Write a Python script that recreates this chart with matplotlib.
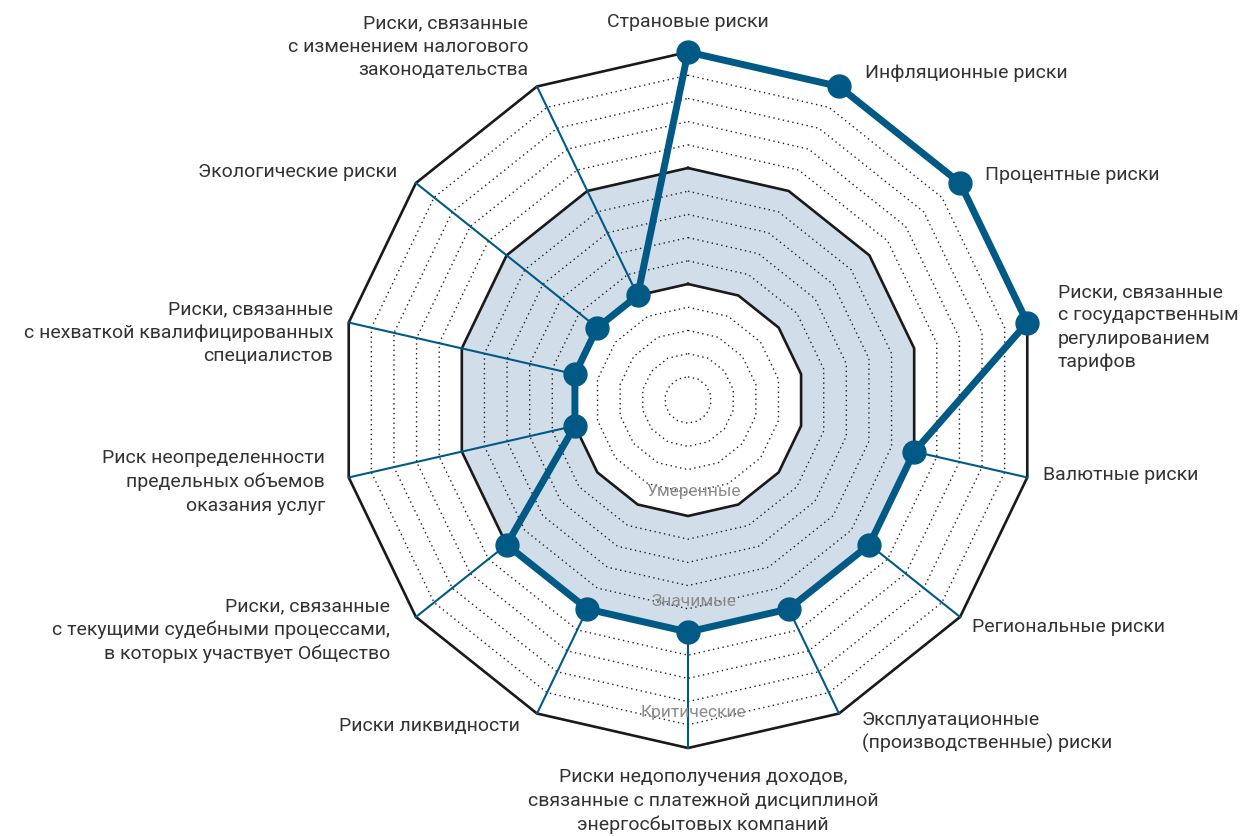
import numpy as np
import matplotlib.pyplot as plt

# risk categories, clockwise from the top
categories = [
    'Страновые риски',
    'Инфляционные риски',
    'Процентные риски',
    'Риски, связанные\nс государственным\nрегулированием\nтарифов',
    'Валютные риски',
    'Региональные риски',
    'Эксплуатационные\n(производственные) риски',
    'Риски недополучения доходов,\nсвязанные с платежной дисциплиной\nэнергосбытовых компаний',
    'Риски ликвидности',
    'Риски, связанные\nс текущими судебными процессами,\nв которых участвует Общество',
    'Риск неопределенности\nпредельных объемов\nоказания услуг',
    'Риски, связанные\nс нехваткой квалифицированных\nспециалистов',
    'Экологические риски',
    'Риски, связанные\nс изменением налогового\nзаконодательства',
]
values = [15, 15, 15, 15, 10, 10, 10, 10, 10, 10, 5, 5, 5, 5]

zone_names = ['Умеренные', 'Значимые', 'Критические']
zone_bounds = [5, 10, 15]
r_max = 15

BLUE = '#005a85'
SHADE = '#d1dde8'
TXT = '#333333'

# label anchors in pixels (x from left, y from top) and alignment
label_px = [(688, 22, 'center'), (865, 73, 'left'), (985, 175, 'left'),
            (1058, 327, 'left'), (1043, 475, 'left'), (972, 627, 'left'),
            (862, 732, 'left'), (703, 801, 'center'), (520, 726, 'right'),
            (390, 630, 'right'), (325, 482, 'right'), (333, 333, 'right'),
            (397, 172, 'right'), (528, 47, 'right')]

W, H = 1240, 836
cx, cy = 688, 400          # chart centre in pixels
scale = 348 / r_max        # pixels per unit

plt.rcParams['font.family'] = ['Roboto', 'DejaVu Sans']

fig = plt.figure(figsize=(W / 100, H / 100), dpi=100)
ax = fig.add_axes([0, 0, 1, 1])
ax.set_xlim(-cx / scale, (W - cx) / scale)
ax.set_ylim(-(H - cy) / scale, cy / scale)
ax.axis('off')

n = len(categories)
ang = np.arange(n) * 2 * np.pi / n


def ring(r):
    a = np.append(ang, ang[0])
    return r * np.sin(a), r * np.cos(a)


def px(x, y):
    return (x - cx) / scale, (cy - y) / scale


# shaded "significant" band
ax.fill(*ring(zone_bounds[1]), color=SHADE, lw=0, zorder=0)
ax.fill(*ring(zone_bounds[0]), color='white', lw=0, zorder=0)

# dotted sub-rings
for r in range(1, r_max):
    if r in zone_bounds:
        continue
    ax.plot(*ring(r), color='#222222', lw=1.0, ls=(0, (1, 2.5)), zorder=1)

# solid zone rings
for r in zone_bounds:
    ax.plot(*ring(r), color='#1a1a1a', lw=1.9, zorder=2)

# spokes from data point to outer ring
vals = np.array(values, dtype=float)
for a, v in zip(ang, vals):
    if v < r_max:
        ax.plot([v * np.sin(a), r_max * np.sin(a)], [v * np.cos(a), r_max * np.cos(a)],
                color=BLUE, lw=1.5, zorder=3)

# data polygon
vx = np.append(vals * np.sin(ang), vals[0] * np.sin(ang[0]))
vy = np.append(vals * np.cos(ang), vals[0] * np.cos(ang[0]))
ax.plot(vx, vy, color=BLUE, lw=5, zorder=4, solid_joinstyle='round')
ax.plot(vx[:-1], vy[:-1], 'o', color=BLUE, ms=16.5, zorder=5)

# zone names
zone_px = [(694, 491), (694, 601), (693, 712)]
for name, (x, y) in zip(zone_names, zone_px):
    ax.text(*px(x, y), name, ha='center', va='center', fontsize=12.5,
            color='#8a8a8a', zorder=6)

# category labels
for lab, (x, y, ha) in zip(categories, label_px):
    ax.text(*px(x, y), lab, ha=ha, va='center', fontsize=14, color=TXT,
            linespacing=1.38, multialignment=ha)

fig.savefig('out.png', dpi=100)
